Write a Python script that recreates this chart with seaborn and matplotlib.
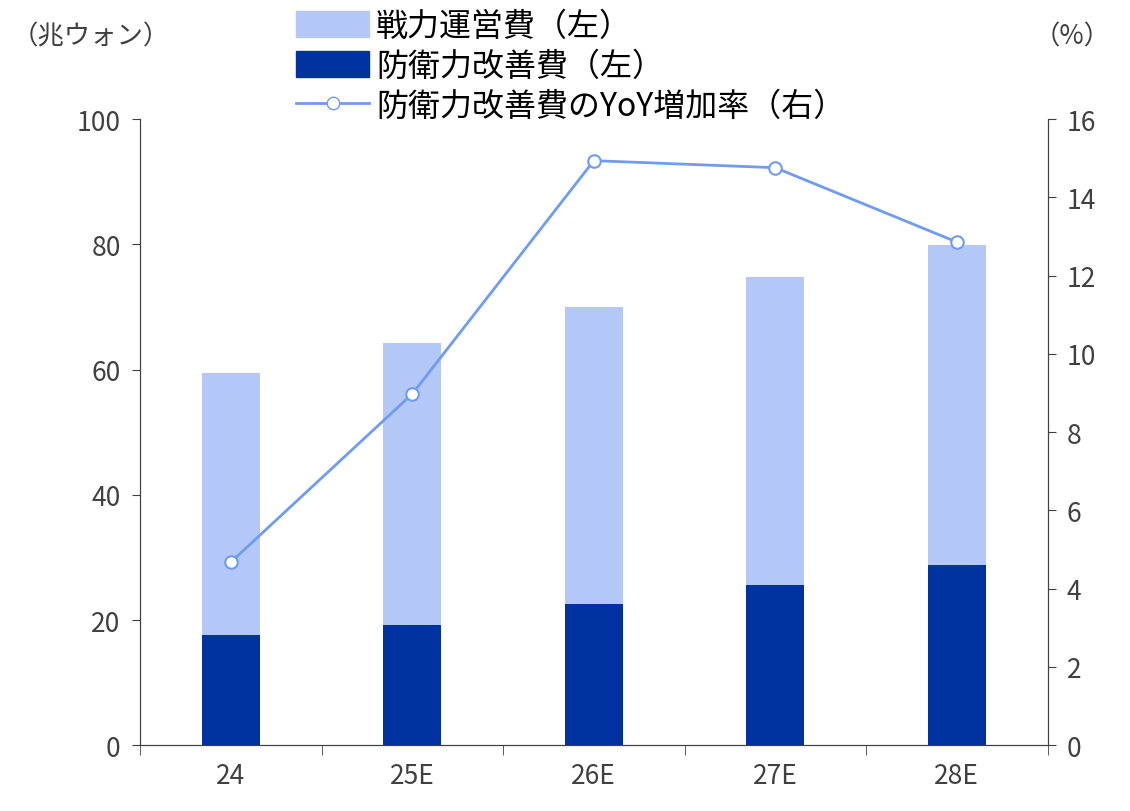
import matplotlib
matplotlib.use("Agg")
import matplotlib.pyplot as plt
import seaborn as sns
import pandas as pd
import numpy as np
from matplotlib.lines import Line2D
from matplotlib.patches import Patch

plt.rcParams["font.family"] = "Noto Sans CJK JP"

categories = ["24", "25E", "26E", "27E", "28E"]
improvement = [17.6, 19.2, 22.5, 25.6, 28.8]
operating = [41.8, 45.0, 47.5, 49.2, 51.1]
yoy = [4.68, 8.98, 14.94, 14.76, 12.86]

light = "#b4c8f7"
dark = "#0033a0"
linec = "#6f9cf2"

total = [a + b for a, b in zip(improvement, operating)]
df = pd.DataFrame({"cat": categories, "imp": improvement, "total": total, "yoy": yoy})

fig = plt.figure(figsize=(11.3, 8.12), dpi=100)
ax = fig.add_axes([0.124, 0.081, 0.803, 0.771])
sns.barplot(data=df, x="cat", y="total", color=light, width=0.32, ax=ax, saturation=1)
sns.barplot(data=df, x="cat", y="imp", color=dark, width=0.32, ax=ax, saturation=1)
ax.set_ylim(0, 100)
ax.set_xlim(-0.5, 4.5)
ax.set_yticks(range(0, 101, 20))
ax.set_xlabel("")
ax.set_ylabel("")
ax.set_xticks(range(5))
ax.set_xticklabels(categories)
ax.tick_params(axis="x", length=0, labelsize=19, colors="#404040", pad=12)
ax.set_xticks(np.arange(-0.5, 5, 1), minor=True)
ax.tick_params(axis="x", which="minor", length=7, color="#404040")
ax.tick_params(axis="y", labelsize=19, colors="#404040", direction="out", length=6, pad=8)
ax.spines["top"].set_visible(False)
for s in ["left", "bottom", "right"]:
    ax.spines[s].set_color("#404040")

ax2 = ax.twinx()
ax2.plot(range(5), df["yoy"], color=linec, lw=2, marker="o", ms=9,
         markerfacecolor="white", markeredgecolor=linec, markeredgewidth=1.5)
ax2.set_ylim(0, 16)
ax2.set_yticks(range(0, 17, 2))
ax2.tick_params(axis="y", labelsize=19, colors="#404040", direction="out", length=6, pad=8)
ax2.spines["top"].set_visible(False)
for s in ["left", "bottom", "right"]:
    ax2.spines[s].set_color("#404040")

handles = [Patch(color=light, label="戦力運営費（左）"),
           Patch(color=dark, label="防衛力改善費（左）"),
           Line2D([], [], color=linec, lw=2, marker="o", ms=9, markerfacecolor="white",
                  markeredgecolor=linec, label="防衛力改善費のYoY増加率（右）")]
fig.legend(handles=handles, loc="upper left", bbox_to_anchor=(0.245, 1.01), frameon=False,
           fontsize=23, labelspacing=0.25, handlelength=2.3, handleheight=0.9,
           handletextpad=0.2, borderaxespad=0.2)

fig.text(0.01, 0.955, "（兆ウォン）", fontsize=19, color="#404040", va="center")
fig.text(0.915, 0.955, "（%）", fontsize=19, color="#404040", va="center")

fig.savefig("out.png", dpi=100)
